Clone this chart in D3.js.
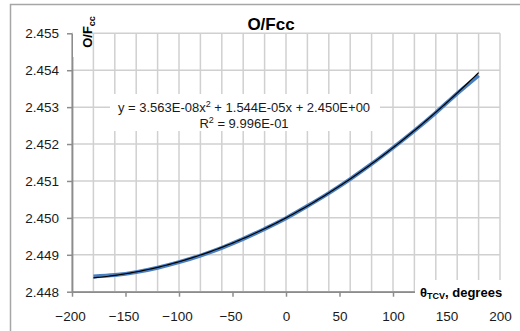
<!DOCTYPE html>
<html><head><meta charset="utf-8">
<script src="https://cdn.jsdelivr.net/npm/d3@7"></script>
<style>
html,body{margin:0;padding:0;background:#fff;}
svg{display:block;font-family:"Liberation Sans",Arial,sans-serif;}
</style></head>
<body><svg id="c" width="520" height="331"></svg>
<script>
const thetaValues = [-180,-160,-140,-120,-100,-80,-60,-40,-20,0,20,40,60,80,100,120,140,160,180];
const ofccValues = [2.44841,2.44845,2.44853,2.44865,2.44880,2.44898,2.44919,2.44943,2.44970,2.44999,2.45032,2.45067,2.45105,2.45146,2.45190,2.45236,2.45285,2.45337,2.45386];
const trendCoefs = [3.563e-08, 1.544e-05, 2.450];
const xTickLabels = [-200,-150,-100,-50,0,50,100,150,200];
const yTickLabels = [2.448,2.449,2.450,2.451,2.452,2.453,2.454,2.455];
const xGrid = d3.range(-200, 201, 20);

const svg = d3.select("#c");
const L=72, R=500, T=33.3, B=291.7;
const x = d3.scaleLinear().domain([-200,200]).range([L,R]);
const y = d3.scaleLinear().domain([2.448,2.455]).range([B,T]);

// outer border
svg.append("rect").attr("x",10.5).attr("y",4.5).attr("width",520).attr("height",340)
  .attr("fill","none").attr("stroke","#a6a6a6").attr("stroke-width",1.5);

// gridlines
const g = svg.append("g");
g.selectAll(".vg").data(xGrid).join("line")
  .attr("x1",d=>x(d)).attr("x2",d=>x(d)).attr("y1",T).attr("y2",B)
  .attr("stroke","#d0d0d0").attr("stroke-width",1.5);
g.selectAll(".hg").data(yTickLabels).join("line")
  .attr("x1",L).attr("x2",R).attr("y1",d=>y(d)).attr("y2",d=>y(d))
  .attr("stroke","#d0d0d0").attr("stroke-width",1.5);

// axes
const yAxis = d3.axisLeft(y).tickValues(yTickLabels).tickFormat(d3.format(".3f")).tickSize(5).tickSizeOuter(0);
const xAxis = d3.axisBottom(x).tickValues(xTickLabels).tickFormat(d3.format("d")).tickSize(5).tickSizeOuter(0);
const ya = svg.append("g").attr("transform",`translate(${L},0)`).call(yAxis);
const xa = svg.append("g").attr("transform",`translate(0,${B})`).call(xAxis);
[ya,xa].forEach(a=>{
  a.select(".domain").attr("stroke","#8c8c8c").attr("stroke-width",1.8);
  a.selectAll(".tick line").attr("stroke","#8c8c8c").attr("stroke-width",1.5);
  a.selectAll("text").attr("fill","#1a1a1a").attr("font-size","13.5px").attr("font-family","Liberation Sans, Arial, sans-serif");
});
ya.selectAll("text").attr("x",-13);
xa.selectAll("text").attr("y",20).attr("dx",d=>d<0?"-2":"0");

// data series
const line = d3.line().x((d,i)=>x(thetaValues[i])).y(d=>y(d)).curve(d3.curveMonotoneX);
svg.append("path").datum(ofccValues).attr("d",line)
  .attr("fill","none").attr("stroke","#4a80c0").attr("stroke-width",4);

// polynomial trendline
const trendX = d3.range(-180, 180.01, 2);
const trend = t => trendCoefs[0]*t*t + trendCoefs[1]*t + trendCoefs[2];
svg.append("path").datum(trendX)
  .attr("d", d3.line().x(d=>x(d)).y(d=>y(trend(d))))
  .attr("fill","none").attr("stroke","#000").attr("stroke-width",1.2);

// equation box
svg.append("rect").attr("x",110).attr("y",94).attr("width",270).attr("height",37).attr("fill","#fff");
const eq = svg.append("text").attr("x",244).attr("y",112).attr("text-anchor","middle")
  .attr("font-size","13px").attr("fill","#1a1a1a");
eq.append("tspan").text("y = 3.563E-08x");
eq.append("tspan").attr("font-size","9px").attr("dy",-5).text("2");
eq.append("tspan").attr("dy",5).text(" + 1.544E-05x + 2.450E+00");
const r2 = svg.append("text").attr("x",244).attr("y",128).attr("text-anchor","middle")
  .attr("font-size","13px").attr("fill","#1a1a1a");
r2.append("tspan").text("R");
r2.append("tspan").attr("font-size","9px").attr("dy",-5).text("2");
r2.append("tspan").attr("dy",5).text(" = 9.996E-01");

// title
svg.append("text").attr("x",271).attr("y",30).attr("text-anchor","middle")
  .attr("font-size","17px").attr("font-weight","bold").attr("fill","#000").text("O/Fcc");

// y axis title
svg.append("rect").attr("x",73).attr("y",18).attr("width",19).attr("height",39).attr("fill","#fff");
const yt = svg.append("text").attr("transform","translate(92,32) rotate(-90)").attr("text-anchor","middle")
  .attr("font-size","13px").attr("font-weight","bold").attr("fill","#000");
yt.append("tspan").text("O/F");
yt.append("tspan").attr("font-size","9px").attr("dy",3).text("cc");

// x axis title
svg.append("rect").attr("x",415).attr("y",280).attr("width",90).attr("height",22).attr("fill","#fff");
const xt = svg.append("text").attr("x",420).attr("y",297).attr("font-size","13px").attr("font-weight","bold").attr("fill","#000");
xt.append("tspan").text("θ");
xt.append("tspan").attr("font-size","9px").attr("dy",2).text("TCV");
xt.append("tspan").attr("dy",-2).text(", degrees");
</script></body></html>
